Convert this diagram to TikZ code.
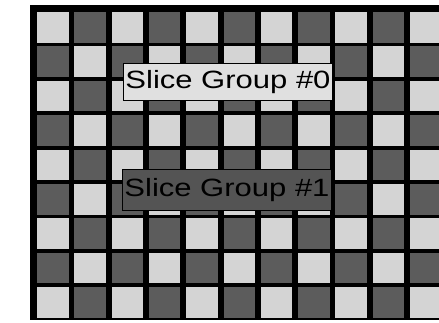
\documentclass[tikz,border=0pt]{standalone}
\usepackage{fontspec}
\setmainfont{Liberation Sans}
\usepackage{tikz}
\usepackage{xcolor}

\definecolor{cellLight}{gray}{0.83}
\definecolor{cellDark}{gray}{0.36}
\definecolor{groupLight}{gray}{0.88}
\definecolor{groupDark}{gray}{0.33}

\tikzset{
  grouplabel/.style={draw=black,line width=1pt,font=\fontsize{25}{25}\selectfont,
    text height=18pt,text depth=5pt,inner xsep=2pt,anchor=base}
}

\begin{document}
\begin{tikzpicture}[x=1pt,y=-1pt]
\useasboundingbox (0,0) rectangle (439,322);
% board
\fill[black] (30,5) rectangle (441,320);
\foreach \r in {0,...,8}{
  \foreach \c in {0,...,10}{
    \pgfmathtruncatemacro{\cellpar}{mod(\r+\c,2)}
    \ifnum\cellpar=0
      \fill[cellLight] (37+37.3*\c,12+34.4*\r) rectangle ++(31.5,30.5);
    \else
      \fill[cellDark] (37+37.3*\c,12+34.4*\r) rectangle ++(31.5,30.5);
    \fi
  }
}
% slice group labels
\node[grouplabel,fill=groupLight,inner ysep=7pt] (sg0) at (228,88)
  {\scalebox{1.24}[1]{Slice Group \#0}};
\node[grouplabel,fill=groupDark,inner ysep=9pt] (sg1) at (227,196)
  {\scalebox{1.24}[1]{Slice Group \#1}};
\end{tikzpicture}
\end{document}
